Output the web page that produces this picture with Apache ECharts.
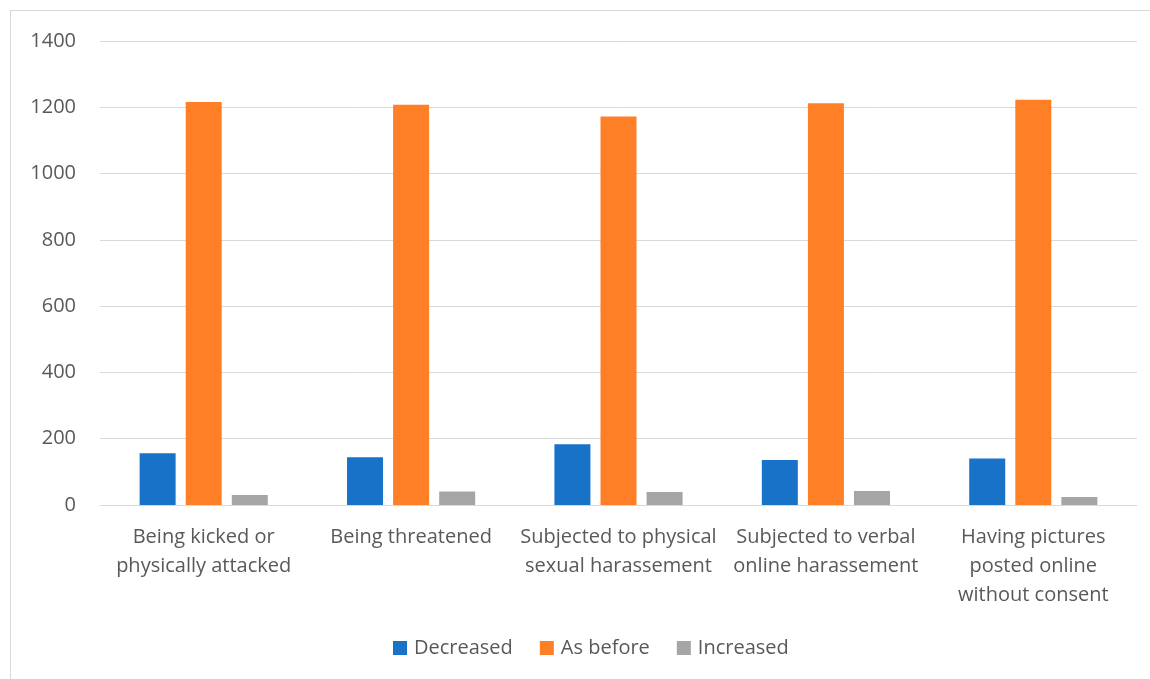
<!DOCTYPE html>
<html>
<head>
<meta charset="utf-8">
<script src="https://cdn.jsdelivr.net/npm/echarts@6/dist/echarts.min.js"></script>
<style>
  html, body { margin: 0; padding: 0; background: #fff; overflow: hidden; }
  #frame {
    position: absolute; left: 10px; top: 10px; width: 1200px; height: 700px;
    border: 1px solid #d9d9d9; box-sizing: border-box;
  }
  #chart { position: absolute; left: 0; top: 0; width: 1150px; height: 679px; }
</style>
</head>
<body>
<div id="frame"></div>
<div id="chart"></div>
<script>
const categories = [
  'Being kicked or\nphysically attacked',
  'Being threatened',
  'Subjected to physical\nsexual harassement',
  'Subjected to verbal\nonline harassement',
  'Having pictures\nposted online\nwithout consent'
];
const decreased = [156, 144, 183, 136, 140];
const asBefore = [1216, 1208, 1172, 1212, 1223];
const increased = [30, 41, 39, 42, 24];

const font = '"Open Sans", sans-serif';
const textColor = '#595959';

const chart = echarts.init(document.getElementById('chart'));

const bar = (name, data, color) => ({
  name, type: 'bar', data,
  barWidth: 36, barGap: '28%',
  itemStyle: { color },
  emphasis: { disabled: true }
});

chart.setOption({
  animation: false,
  textStyle: { fontFamily: font },
  grid: { left: 100, right: 13, top: 41, bottom: 174, containLabel: false },
  legend: {
    bottom: 16, left: 388,
    itemWidth: 14, itemHeight: 14, itemGap: 27,
    icon: 'rect',
    textStyle: { fontSize: 20, color: textColor, fontFamily: font, padding: [0, 0, 0, 2] },
    data: ['Decreased', 'As before', 'Increased']
  },
  xAxis: {
    type: 'category', data: categories,
    axisLine: { lineStyle: { color: '#d9d9d9', width: 1 } },
    axisTick: { show: false },
    axisLabel: { fontSize: 20, color: textColor, lineHeight: 29, margin: 18, interval: 0, fontFamily: font }
  },
  yAxis: {
    type: 'value', min: 0, max: 1400, interval: 200,
    axisLine: { show: false },
    axisTick: { show: false },
    splitLine: { lineStyle: { color: '#d9d9d9', width: 1 } },
    axisLabel: { fontSize: 20, color: textColor, margin: 24, fontFamily: font, formatter: v => String(v) }
  },
  series: [
    bar('Decreased', decreased, '#1772c8'),
    bar('As before', asBefore, '#fe7f25'),
    bar('Increased', increased, '#a5a5a5')
  ]
});
</script>
</body>
</html>
